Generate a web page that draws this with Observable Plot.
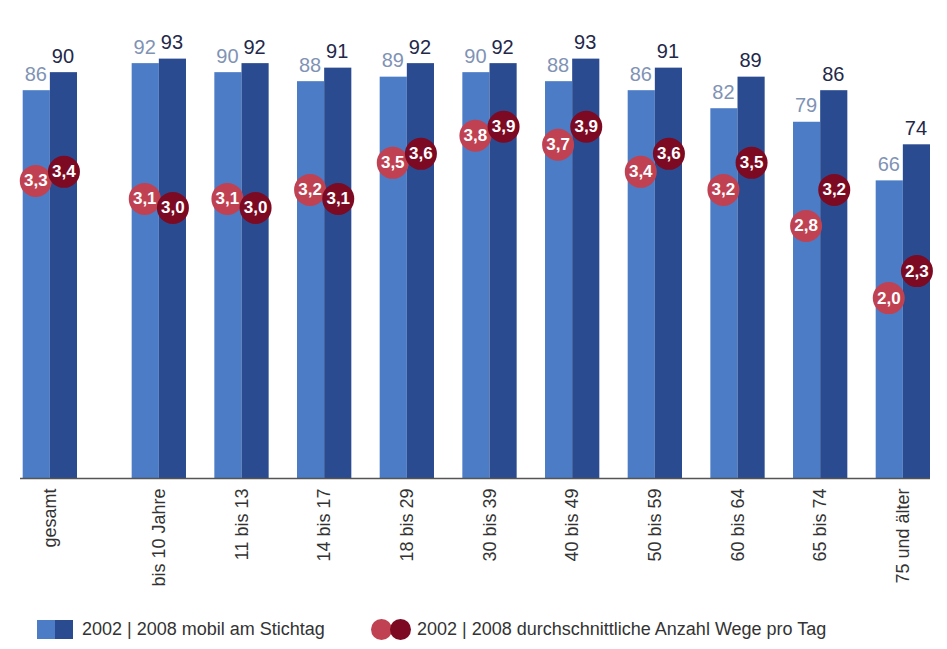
<!DOCTYPE html>
<html>
<head>
<meta charset="utf-8">
<script src="https://cdn.jsdelivr.net/npm/d3@7"></script>
<script src="https://cdn.jsdelivr.net/npm/@observablehq/plot@0.6"></script>
<style>
  html, body { margin: 0; padding: 0; background: #fff; }
  body { width: 947px; height: 649px; position: relative; overflow: hidden; font-family: "Liberation Sans", Arial, sans-serif; }
  #chart { position: absolute; left: 0; top: 0; }
  .legend { position: absolute; top: 619px; left: 0; width: 947px; height: 20px; font-size: 18px; color: #333; }
  .item { position: absolute; top: 0; display: flex; align-items: center; height: 20px; }
  .sq { width: 18px; height: 19px; display: inline-block; }
  .ci { width: 21px; height: 21px; border-radius: 50%; display: inline-block; }
</style>
</head>
<body>
<div id="chart"></div>
<div class="legend">
  <div class="item" style="left:37px"><span class="sq" style="background:#4b7cc5"></span><span class="sq" style="background:#2a4b90"></span><span style="margin-left:9px">2002 | 2008 mobil am Stichtag</span></div>
  <div class="item" style="left:371px"><span class="ci" style="background:#c04252"></span><span class="ci" style="background:#7d0a23;margin-left:-2px"></span><span style="margin-left:6px">2002 | 2008 durchschnittliche Anzahl Wege pro Tag</span></div>
</div>
<script>
// ---- data ----
const categories = ["gesamt", "bis 10 Jahre", "11 bis 13", "14 bis 17", "18 bis 29", "30 bis 39", "40 bis 49", "50 bis 59", "60 bis 64", "65 bis 74", "75 und älter"];
const mobil2002 = [86, 92, 90, 88, 89, 90, 88, 86, 82, 79, 66];
const mobil2008 = [90, 93, 92, 91, 92, 92, 93, 91, 89, 86, 74];
const wege2002 = [3.3, 3.1, 3.1, 3.2, 3.5, 3.8, 3.7, 3.4, 3.2, 2.8, 2.0];
const wege2008 = [3.4, 3.0, 3.0, 3.1, 3.6, 3.9, 3.9, 3.6, 3.5, 3.2, 2.3];
const WEGE_TO_PERCENT = 20; // secondary axis ratio (1 Weg = 20 %-Punkte)

// ---- layout ----
const W = 947, H = 600;
const mL = 49, mR = 17, mT = 0, mB = 122;
const padInner = 0.343;
const step = (W - mL - mR) / (categories.length - padInner);
const bw = step * (1 - padInner);
const half = bw / 2;
const gesamtShift = -26.3;

const C = {
  bar02: "#4b7cc5", bar08: "#2a4b90",
  dot02: "#c04252", dot08: "#7d0a23",
  lab02: "#7f93b5", lab08: "#23284a",
  axis: "#555", cat: "#333"
};
const font = "Liberation Sans, Arial, sans-serif";
const fmt = v => v.toFixed(1).replace(".", ",");

const rows = categories.map((cat, i) => ({
  cat, m02: mobil2002[i], m08: mobil2008[i], w02: wege2002[i], w08: wege2008[i]
}));

function groupMarks(data, gdx) {
  return [
    Plot.barY(data, {x: "cat", y: "m02", fill: C.bar02, insetRight: half, dx: gdx}),
    Plot.barY(data, {x: "cat", y: "m08", fill: C.bar08, insetLeft: half, dx: gdx}),
    Plot.text(data, {x: "cat", y: "m02", text: d => String(d.m02), fill: C.lab02, fontSize: 20,
      lineAnchor: "bottom", dy: -10, dx: gdx - half / 2 - 1}),
    Plot.text(data, {x: "cat", y: "m08", text: d => String(d.m08), fill: C.lab08, fontSize: 20,
      lineAnchor: "bottom", dy: -10, dx: gdx + half / 2 - 1}),
    Plot.dot(data, {x: "cat", y: d => d.w02 * WEGE_TO_PERCENT, r: 16, fill: C.dot02, dx: gdx - half / 2 - 1}),
    Plot.text(data, {x: "cat", y: d => d.w02 * WEGE_TO_PERCENT, text: d => fmt(d.w02), fill: "white",
      fontWeight: "bold", fontSize: 17, dx: gdx - half / 2 - 1}),
    Plot.dot(data, {x: "cat", y: d => d.w08 * WEGE_TO_PERCENT, r: 16, fill: C.dot08, dx: gdx + half / 2}),
    Plot.text(data, {x: "cat", y: d => d.w08 * WEGE_TO_PERCENT, text: d => fmt(d.w08), fill: "white",
      fontWeight: "bold", fontSize: 17, dx: gdx + half / 2}),
    Plot.text(data, {x: "cat", frameAnchor: "bottom", text: "cat", rotate: -90, textAnchor: "end",
      lineAnchor: "middle", dy: 10, dx: gdx, fill: C.cat, fontSize: 18})
  ];
}

const chart = Plot.plot({
  width: W, height: H,
  marginLeft: mL, marginRight: mR, marginTop: mT, marginBottom: mB,
  style: {fontFamily: font, background: "white"},
  x: {type: "band", domain: categories, paddingInner: padInner, paddingOuter: 0, round: false, axis: null},
  y: {domain: [0, 106], axis: null},
  marks: [
    ...groupMarks(rows.filter(d => d.cat === "gesamt"), gesamtShift),
    ...groupMarks(rows.filter(d => d.cat !== "gesamt"), 0),
    Plot.ruleY([0], {stroke: C.axis, strokeWidth: 1.5, insetLeft: -29})
  ]
});
document.getElementById("chart").appendChild(chart);
</script>
</body>
</html>
